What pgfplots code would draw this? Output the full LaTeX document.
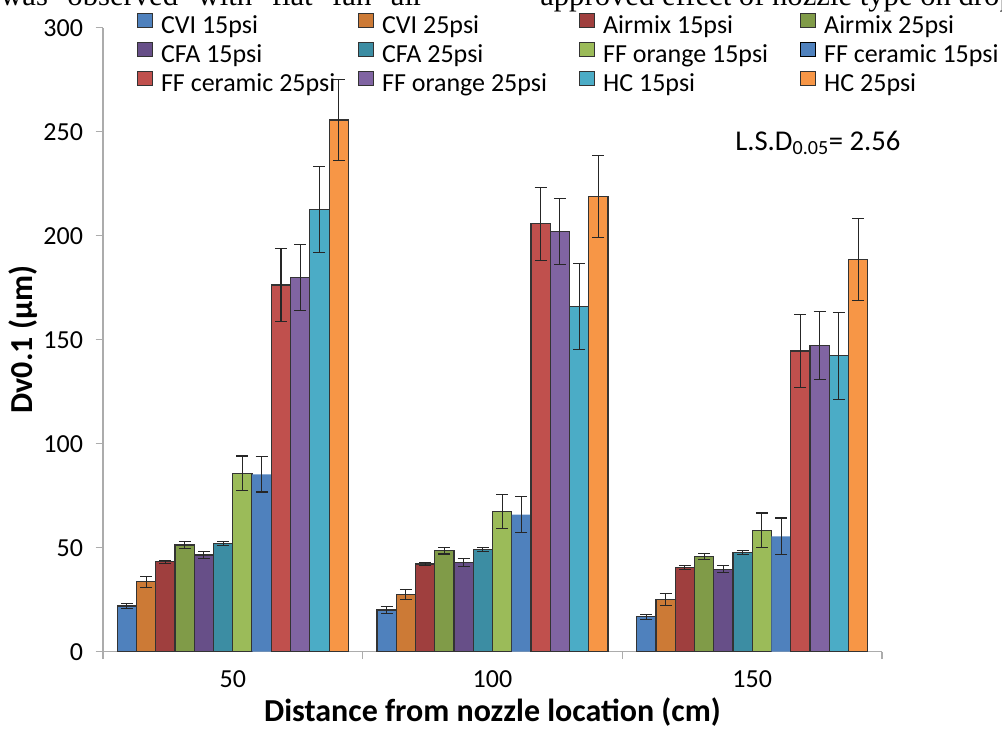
\documentclass[border=0pt]{standalone}
\usepackage{fontspec}
\setmainfont{Carlito}
\newfontfamily\timesfont{Liberation Serif}
\usepackage{pgfplots}
\pgfplotsset{compat=1.18}

\definecolor{c1}{HTML}{4F81BD}
\definecolor{c2}{HTML}{CC7A36}
\definecolor{c3}{HTML}{9F3F3E}
\definecolor{c4}{HTML}{809B48}
\definecolor{c5}{HTML}{674F88}
\definecolor{c6}{HTML}{3C8DA3}
\definecolor{c7}{HTML}{9BBB59}
\definecolor{c8}{HTML}{4F81BD}
\definecolor{c9}{HTML}{C0504D}
\definecolor{c10}{HTML}{8064A2}
\definecolor{c11}{HTML}{4BACC6}
\definecolor{c12}{HTML}{F79646}

% legend entry of fixed width so that columns are evenly spaced
\newcommand{\lent}[1]{\kern6pt\makebox[147.75pt][l]{#1}}

\begin{document}
\begin{tikzpicture}
\begin{axis}[
  at={(0,0)}, anchor=south west,
  scale only axis, width=584.25pt, height=468pt,
  ybar=0pt, bar width=14.44pt,
  xmin=-0.5, xmax=2.5, ymin=0, ymax=300,
  ytick={0,50,...,300},
  xtick={-0.5,0.5,1.5,2.5}, xticklabels={,,,},
  extra x ticks={0,1,2}, extra x tick labels={50,100,150},
  extra x tick style={major tick length=0pt},
  axis x line=bottom, axis y line=left,
  axis line style={-, draw=gray!65, line width=0.8pt},
  tick style={draw=gray!65, line width=0.8pt},
  tick align=outside, major tick length=5.5pt,
  /pgf/number format/assume math mode=true,
  tick label style={font=\fontsize{19.5}{22}\selectfont},
  yticklabel style={xshift=-6pt},
  xticklabel style={yshift=-11pt},
  xlabel={\bfseries Distance from nozzle location (cm)},
  ylabel={\bfseries Dv0.1 (µm)},
  label style={font=\fontsize{24}{28}\selectfont},
  xlabel style={at={(axis description cs:0.5,-0.0962)}, anchor=center},
  ylabel style={at={(axis description cs:-0.1027,0.5)}, anchor=center},
  clip=false,
  legend columns=4,
  legend cell align=left,
  legend image code/.code={\draw[#1, line width=0.8pt] (0pt,0pt) rectangle (11.25pt,10.5pt);},
  legend style={at={(axis description cs:0.0436,1.0236)}, anchor=north west,
    draw=none, fill=none, inner sep=0pt, outer sep=0pt,
    /tikz/column sep=0pt, /tikz/row sep=0pt,
    font=\fontsize{19.5}{22}\selectfont,
    nodes={inner sep=0pt, text height=15pt, text depth=6.75pt}},
  every axis plot/.append style={line width=0.9pt,
    /pgfplots/error bars/y dir=both, /pgfplots/error bars/y explicit,
    /pgfplots/error bars/error bar style={line width=0.8pt, black!85},
    /pgfplots/error bars/error mark options={rotate=90, line width=0.8pt, black!85, mark size=4.5pt}},
]
\addplot[fill=c1, draw=black!80] coordinates {(0,22.0) +- (0,1.2) (1,20.1) +- (0,1.5) (2,16.9) +- (0,1.2)};
\addplot[fill=c2, draw=black!80] coordinates {(0,33.6) +- (0,2.5) (1,27.6) +- (0,2.5) (2,25.2) +- (0,2.8)};
\addplot[fill=c3, draw=black!80] coordinates {(0,43.3) +- (0,0.7) (1,42.2) +- (0,0.8) (2,40.5) +- (0,0.8)};
\addplot[fill=c4, draw=black!80] coordinates {(0,51.3) +- (0,1.5) (1,48.5) +- (0,1.5) (2,45.9) +- (0,1.4)};
\addplot[fill=c5, draw=black!80] coordinates {(0,46.5) +- (0,1.8) (1,42.9) +- (0,1.9) (2,39.7) +- (0,1.8)};
\addplot[fill=c6, draw=black!80] coordinates {(0,52.0) +- (0,1.1) (1,49.1) +- (0,1.0) (2,47.8) +- (0,1.0)};
\addplot[fill=c7, draw=black!80] coordinates {(0,85.8) +- (0,8.3) (1,67.5) +- (0,8.3) (2,58.4) +- (0,8.3)};
\addplot[fill=c8, draw=none] coordinates {(0,85.3) +- (0,8.5) (1,65.9) +- (0,8.6) (2,55.5) +- (0,8.8)};
\addplot[fill=c9, draw=black!80] coordinates {(0,176.3) +- (0,17.5) (1,205.8) +- (0,17.5) (2,144.6) +- (0,17.5)};
\addplot[fill=c10, draw=black!80] coordinates {(0,180.0) +- (0,16.0) (1,202.1) +- (0,16.0) (2,147.1) +- (0,16.3)};
\addplot[fill=c11, draw=black!80] coordinates {(0,212.5) +- (0,20.6) (1,165.9) +- (0,20.7) (2,142.3) +- (0,21.0)};
\addplot[fill=c12, draw=black!80] coordinates {(0,255.6) +- (0,19.4) (1,218.8) +- (0,19.6) (2,188.5) +- (0,19.8)};
\legend{\lent{CVI 15psi},\lent{CVI 25psi},\lent{Airmix 15psi},\lent{Airmix 25psi},
  \lent{CFA 15psi},\lent{CFA 25psi},\lent{FF orange 15psi},\lent{FF ceramic 15psi},
  \lent{FF ceramic 25psi},\lent{FF orange 25psi},\lent{HC 15psi},\lent{HC 25psi}}
\node[anchor=base west, inner sep=0pt, font=\fontsize{21.5}{24}\selectfont] at (axis cs:1.934,241.2)
  {L.S.D\textsubscript{0.05}= 2.56};
\end{axis}
% cropped line of the surrounding document text
\node[anchor=base west, inner sep=0pt, font=\timesfont\fontsize{23}{24}\selectfont]
  at (-77.25pt,485pt) {\makebox[317.25pt][s]{was observed with flat fan air}};
\node[anchor=base west, inner sep=0pt, font=\timesfont\fontsize{23}{24}\selectfont]
  at (327.75pt,485pt) {approved effect of nozzle type on drop};
\pgfresetboundingbox
\useasboundingbox (-77.25pt,-58pt) rectangle (674.25pt,488.8pt);
\end{tikzpicture}
\end{document}
